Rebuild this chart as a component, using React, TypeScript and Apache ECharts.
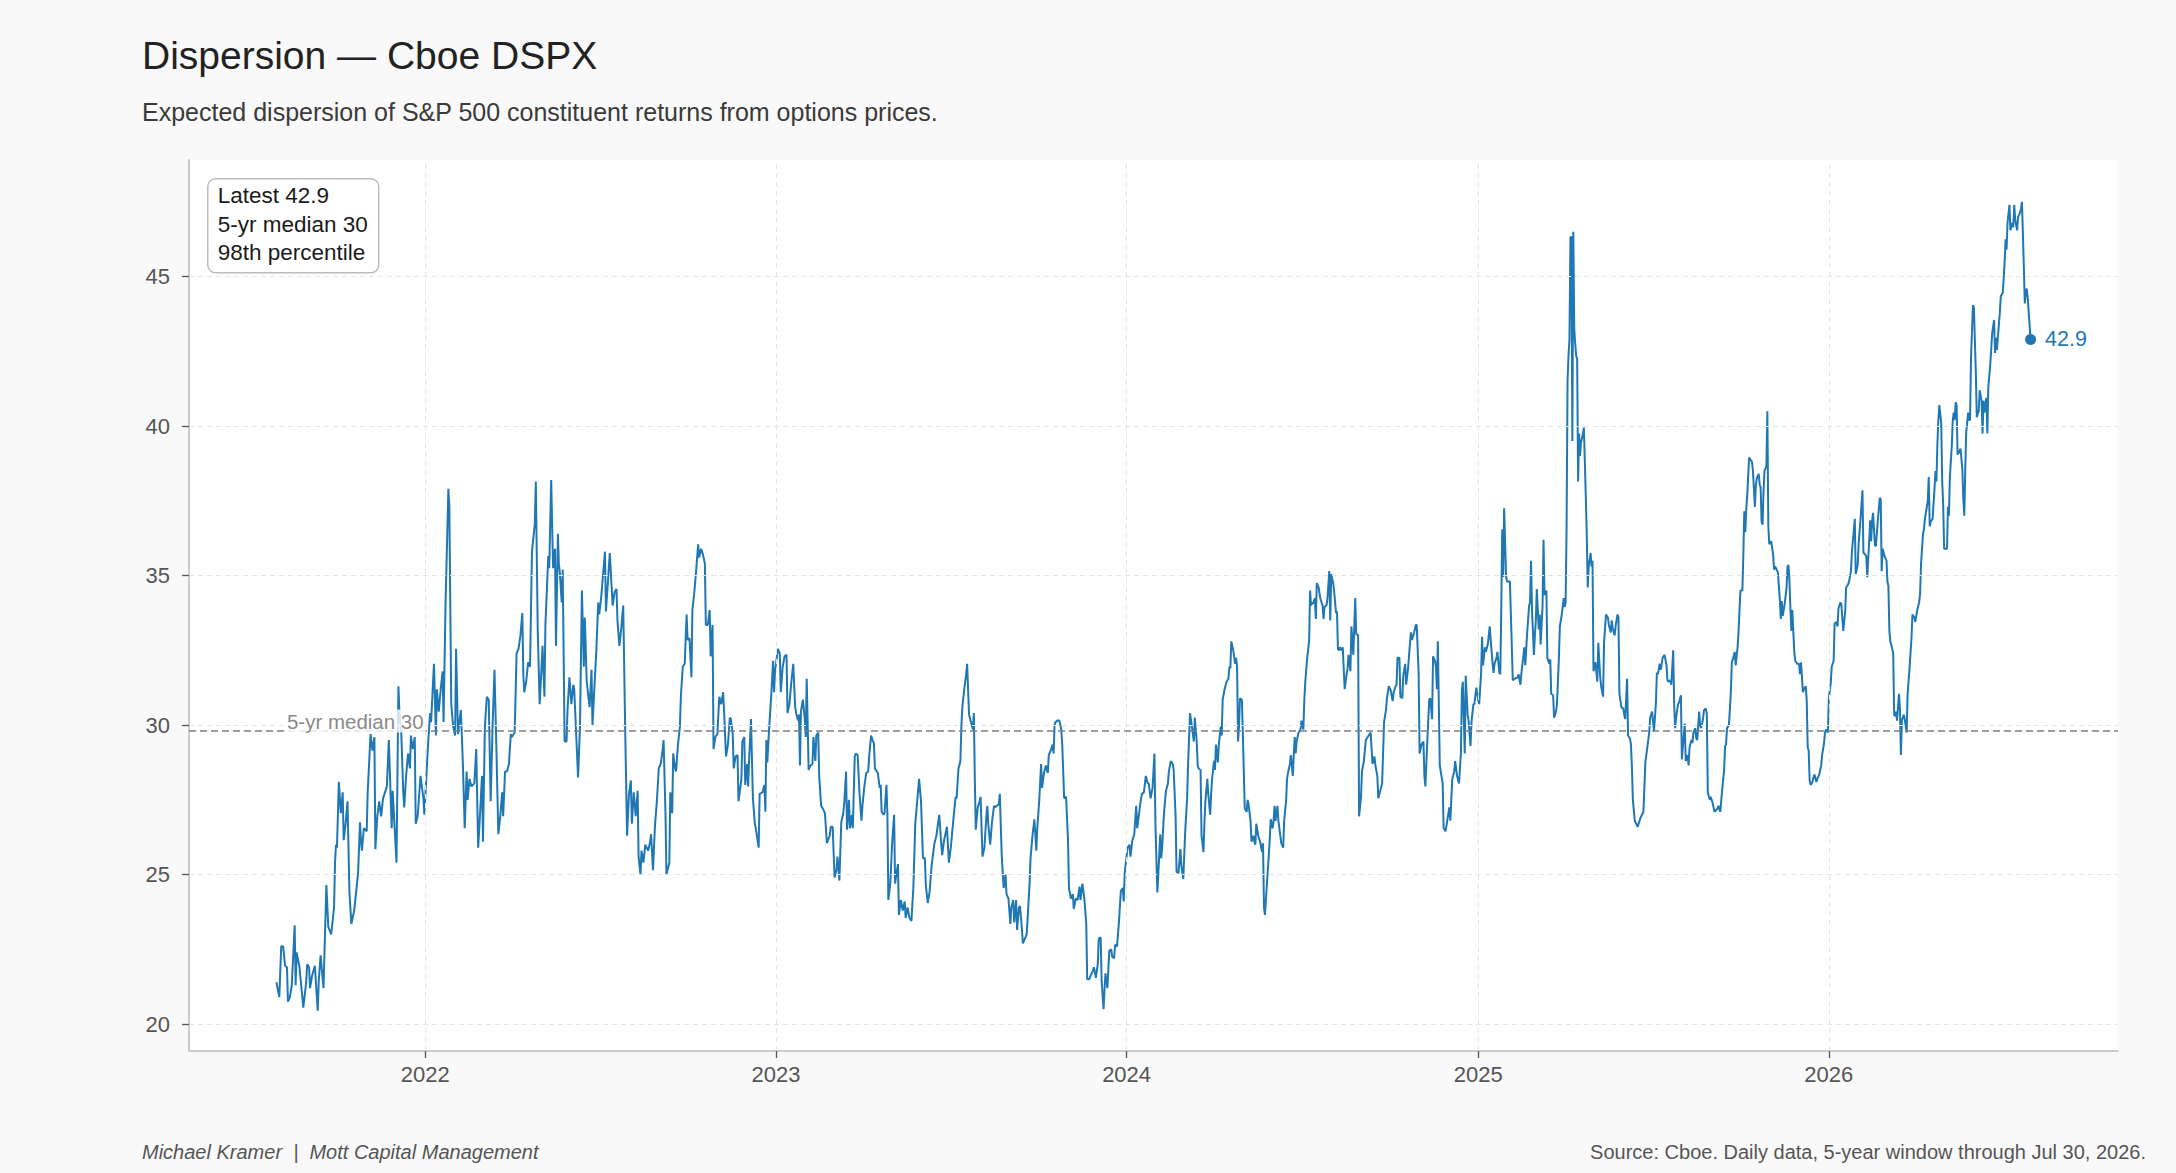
import React, { useEffect, useRef } from "react";
import * as echarts from "echarts";

// ---- data: [calendar-day offset from 2021-07-30, DSPX value] ----
const START_UTC = Date.UTC(2021, 6, 30);
const DAY_MS = 86400000;

// Jul 2021 - Jun 2022
const seg1: [number, number][] = [
  [0,21.4],[3,20.9],[5,22.6],[7,22.6],[9,21.95],[11,21.9],[12,20.75],[14,20.9],[16,21.3],[19,23.3],[20,21.3],[21,22.4],[24,21.9],[28,20.55],[31,21.4],[32,22.0],[34,21.9],[35,21.2],[37,21.6],[40,21.95],[43,20.45],[44,21.4],[46,22.3],[49,21.2],[52,24.65],[54,23.25],[57,23.0],[60,23.9],[61,25.4],[62,26.0],[63,25.9],[65,28.1],[67,27.05],[69,27.75],[70,26.15],[72,26.7],[74,27.45],[76,24.4],[78,23.35],[81,23.8],[85,25.05],[87,26.75],[88,26.15],[89,25.8],[91,26.55],[94,26.45],[95,27.75],[98,29.7],[100,29.15],[102,29.6],[103,25.85],[105,26.95],[107,27.45],[109,26.95],[111,27.55],[115,27.95],[117,29.5],[120,26.55],[121,27.8],[125,25.4],[127,31.3],[128,30.45],[130,29.7],[132,27.8],[133,27.25],[135,28.3],[137,29.05],[139,28.55],[140,29.65],[142,29.2],[144,29.6],[145,26.7],[147,26.95],[150,28.3],[153,27.55],[154,27.0],[158,29.45],[160,30.4],[161,30.1],[164,32.05],[166,29.65],[167,31.2],[169,30.45],[171,31.2],[173,31.8],[174,30.1],[176,34.0],[179,37.9],[180,37.3],[182,30.7],[184,29.95],[186,29.65],[187,32.55],[189,29.7],[192,30.5],[194,28.8],[196,26.55],[198,28.45],[199,27.5],[201,28.2],[203,27.95],[206,28.05],[208,29.2],[210,25.9],[212,27.05],[214,28.3],[215,26.1],[217,29.95],[219,30.95],[221,30.85],[223,27.45],[225,29.95],[227,31.85],[229,29.2],[231,26.35],[233,26.95],[235,27.75],[236,26.95],[238,28.45],[240,28.45],[242,28.7],[244,29.7],[245,29.6],[248,29.75],[250,32.4],[252,32.55],[254,33.0],[256,33.75],[257,31.7],[258,31.1],[260,31.45],[262,32.1],[264,31.95],[266,35.8],[269,36.75],[270,38.15],[272,33.25],[274,30.7],[276,31.95],[277,32.65],[279,30.95],[280,33.35],[283,35.65],[284,35.25],[286,38.2],[288,35.25],[290,35.9],[291,32.65],[293,36.4],[294,35.4],[295,35.1],[297,34.1],[298,35.2],[300,29.45],[302,29.45],[303,30.5],[305,31.6],[307,30.7],[309,31.35],[310,31.2]
];

// Jun 2022 - Apr 2023
const seg2: [number, number][] = [
  [314,28.25],[316,29.95],[318,34.5],[320,31.95],[321,33.6],[323,31.45],[326,30.6],[328,31.85],[329,30.0],[333,32.5],[335,34.1],[336,33.7],[338,34.25],[342,35.8],[343,33.8],[345,34.75],[347,35.75],[350,34.0],[352,34.45],[354,34.55],[355,33.5],[357,32.65],[359,33.25],[361,34.0],[363,29.95],[365,26.3],[367,27.7],[369,28.15],[370,26.7],[372,27.75],[374,26.95],[376,27.8],[377,25.6],[379,25.0],[380,25.8],[382,25.4],[384,26.0],[387,25.8],[389,26.1],[390,26.35],[392,25.15],[394,26.6],[396,27.45],[398,28.55],[400,28.7],[402,29.15],[403,29.5],[405,27.05],[406,25.0],[409,25.4],[410,27.75],[412,27.05],[413,29.05],[415,28.55],[416,28.45],[418,29.35],[420,29.95],[421,30.95],[423,31.95],[425,32.05],[427,33.7],[428,32.85],[430,32.9],[432,31.6],[433,33.85],[435,34.45],[437,35.2],[439,36.05],[440,35.6],[442,35.9],[444,35.7],[446,35.4],[447,33.35],[449,33.35],[451,33.85],[452,32.3],[454,33.35],[455,29.2],[457,29.6],[459,29.7],[461,30.95],[463,30.7],[465,31.1],[466,30.45],[468,28.95],[470,29.35],[472,30.25],[473,30.2],[475,29.7],[476,28.55],[478,28.95],[480,29.0],[481,27.45],[484,28.2],[485,29.45],[487,29.6],[488,28.0],[490,28.7],[491,27.95],[492,28.8],[494,30.2],[496,27.55],[498,26.7],[499,26.55],[502,25.9],[503,27.7],[506,27.75],[508,28.0],[509,27.1],[510,29.5],[511,28.75],[513,29.95],[515,30.95],[517,32.15],[518,31.1],[519,31.8],[522,32.55],[524,32.4],[525,31.1],[527,31.95],[529,32.3],[531,32.35],[532,30.4],[534,30.7],[536,31.45],[538,32.05],[540,30.6],[541,30.4],[543,30.15],[544,30.35],[545,28.65],[546,30.45],[548,30.85],[550,30.2],[551,29.6],[552,31.55],[554,28.5],[556,28.65],[558,28.7],[559,29.6],[561,28.8],[562,29.65],[564,29.75],[565,28.3],[567,27.3],[569,27.2],[571,27.05],[572,26.55],[573,26.05],[576,26.3],[577,26.6],[579,26.6],[581,24.9],[583,25.15],[584,25.6],[585,25.25],[586,24.8],[588,26.75],[590,27.05],[591,27.35],[593,28.45],[594,26.5],[596,27.5],[597,26.55],[599,27.0],[600,26.55],[602,28.95],[603,29.05],[605,29.0],[607,27.7],[609,26.8],[610,27.3],[612,27.95],[614,28.4],[616,28.45],[617,28.95],[619,29.65],[621,29.45],[622,29.4]
];

// Apr 2023 - Feb 2024
const seg3: [number, number][] = [
  [623,28.55],[626,28.4],[628,27.9],[629,28.0],[630,27.1],[632,27.0],[633,27.05],[635,28.0],[636,27.0],[637,24.15],[639,24.7],[641,26.1],[643,27.0],[644,24.7],[646,25.15],[647,25.35],[648,23.65],[650,24.15],[652,23.8],[654,24.1],[655,23.55],[657,23.9],[659,23.55],[661,23.45],[663,24.55],[665,26.7],[667,27.45],[669,28.2],[671,27.45],[673,25.55],[675,25.55],[676,24.65],[678,24.05],[680,24.45],[682,25.3],[683,25.55],[685,26.05],[687,26.3],[688,26.55],[690,27.0],[692,26.05],[693,25.65],[695,26.15],[697,26.45],[698,26.6],[700,25.4],[702,25.9],[705,26.95],[707,27.6],[708,27.55],[710,28.55],[712,28.8],[713,29.95],[714,30.6],[716,31.2],[718,31.7],[719,32.05],[721,30.35],[723,30.1],[725,29.85],[726,30.4],[727,28.2],[728,26.5],[730,27.25],[732,27.45],[733,27.6],[735,25.6],[737,25.9],[739,26.95],[740,27.3],[741,26.7],[743,26.0],[745,26.8],[747,27.3],[748,27.25],[750,27.3],[752,27.35],[753,27.7],[755,25.65],[757,24.55],[758,24.8],[759,25.0],[760,24.35],[762,24.2],[764,23.35],[765,23.9],[767,24.15],[768,23.4],[770,24.15],[771,23.15],[773,23.9],[774,23.95],[776,23.2],[777,22.7],[779,22.85],[781,23.0],[782,23.55],[784,24.7],[785,25.55],[787,26.3],[789,26.85],[791,25.8],[792,26.55],[794,27.45],[796,28.7],[797,27.9],[799,28.4],[801,28.65],[803,28.4],[804,29.0],[806,29.15],[808,29.35],[809,29.05],[810,30.0],[811,30.1],[813,30.15],[815,30.15],[817,29.85],[818,29.35],[820,27.55],[822,27.6],[824,26.15],[825,24.55],[827,24.2],[829,24.35],[830,23.85],[832,24.2],[834,24.15],[836,24.6],[837,24.15],[839,24.7],[841,24.2],[843,23.35],[844,21.5],[846,21.5],[848,21.65],[850,21.8],[851,21.9],[853,21.55],[855,22.0],[856,22.85],[858,22.9],[859,21.45],[861,20.5],[862,21.15],[863,21.7],[865,21.2],[867,22.45],[869,22.5],[870,22.25],[872,22.2],[873,22.65],[875,22.6],[877,23.4],[879,24.45],[881,24.55],[882,24.1],[883,25.05],[886,25.9],[888,26.0],[889,25.6],[891,26.15],[893,26.35],[895,27.3],[896,26.55],[898,27.05],[900,27.55],[901,27.7],[903,27.75],[905,28.3],[907,28.05],[908,28.05],[910,27.55],[912,27.9],[914,29.05],[915,26.7],[917,24.4],[919,25.65],[920,26.35],[921,25.55],[922,25.9],[924,27.1],[926,27.8],[928,28.05],[929,28.45],[931,28.8],[933,28.7],[934,28.5]
];

// Feb 2024 - Jan 2025
const seg4: [number, number][] = [
  [936,26.95],[937,25.1],[939,25.05],[941,25.85],[942,25.3],[944,24.85],[946,26.45],[948,27.55],[949,28.7],[951,30.4],[953,29.95],[954,29.7],[955,29.45],[956,30.25],[958,29.45],[959,28.65],[960,28.55],[962,28.5],[963,26.3],[965,25.75],[966,26.7],[967,27.45],[969,28.2],[970,27.7],[972,27.0],[973,27.7],[974,28.2],[976,28.8],[977,28.5],[978,29.35],[980,28.75],[981,29.35],[983,29.95],[984,29.65],[985,30.85],[987,31.2],[989,31.45],[991,31.55],[992,31.95],[993,31.9],[994,32.8],[996,32.5],[998,32.05],[999,32.25],[1000,31.95],[1001,29.45],[1002,29.95],[1003,30.9],[1005,30.85],[1006,29.7],[1007,28.45],[1008,27.2],[1010,27.1],[1011,27.5],[1012,27.35],[1014,26.8],[1015,26.1],[1017,26.3],[1018,26.1],[1019,26.0],[1020,26.7],[1022,26.3],[1024,26.1],[1026,25.75],[1027,26.05],[1028,23.9],[1029,23.65],[1031,24.65],[1033,25.65],[1034,26.15],[1035,26.85],[1037,26.55],[1038,26.8],[1039,27.3],[1040,26.8],[1042,27.3],[1043,26.8],[1045,26.3],[1046,26.05],[1048,25.9],[1049,26.8],[1051,27.45],[1052,28.2],[1053,28.4],[1055,28.7],[1056,29.0],[1058,28.3],[1059,29.0],[1060,29.6],[1061,29.05],[1062,29.45],[1063,29.6],[1064,29.75],[1066,29.85],[1067,30.15],[1069,29.85],[1070,30.85],[1071,31.45],[1073,32.25],[1075,32.8],[1076,34.5],[1077,34.0],[1078,34.1],[1079,34.05],[1081,34.25],[1082,33.55],[1083,34.75],[1085,34.6],[1086,34.35],[1087,34.2],[1089,34.0],[1090,33.55],[1091,33.95],[1093,34.0],[1094,34.2],[1096,35.15],[1097,33.5],[1098,35.05],[1100,34.75],[1101,34.5],[1103,33.75],[1104,33.8],[1105,32.55],[1106,32.5],[1107,32.6],[1109,32.5],[1110,32.6],[1112,31.2],[1114,31.7],[1115,31.9],[1116,32.35],[1118,31.8],[1119,33.3],[1121,32.35],[1122,33.3],[1123,34.25],[1124,33.05],[1126,33.0],[1127,26.95],[1129,27.6],[1130,28.45],[1132,28.8],[1134,29.5],[1136,29.6],[1137,29.65],[1139,29.75],[1141,28.7],[1143,28.95],[1144,28.65],[1146,28.3],[1147,27.55],[1149,27.8],[1151,28.05],[1153,30.1],[1155,30.5],[1156,30.9],[1158,31.3],[1160,31.15],[1162,30.8],[1163,31.1],[1165,31.3],[1166,31.35],[1167,32.25],[1169,32.25],[1170,30.95],[1172,30.9],[1173,31.65],[1175,32.05],[1176,31.35],[1178,31.9],[1180,32.75],[1181,33.1],[1182,32.85],[1184,33.05],[1186,33.35],[1187,33.35],[1189,31.7],[1190,29.05],[1192,29.35],[1194,29.45],[1195,28.3],[1196,27.95],[1198,29.45],[1200,30.85],[1201,30.9],[1203,30.2],[1204,32.3],[1206,32.15],[1207,31.95],[1208,31.2],[1209,32.8],[1211,28.65],[1212,28.45],[1214,28.05],[1215,26.55],[1217,26.45],[1219,26.85],[1221,27.25],[1222,26.8],[1224,28.2],[1226,28.45],[1227,28.8],[1229,28.3],[1231,28.05],[1233,29.05],[1234,31.15],[1235,31.45],[1237,29.05],[1238,31.65],[1240,30.35],[1241,30.15],[1243,29.3],[1244,30.1],[1246,30.7],[1247,30.7]
];

// Jan 2025 - Nov 2025
const seg5: [number, number][] = [
  [1249,31.25],[1251,30.85],[1252,30.7],[1254,31.7],[1255,32.95],[1256,32.0],[1258,32.6],[1259,32.45],[1261,32.7],[1263,33.3],[1264,32.85],[1266,32.05],[1267,31.75],[1268,32.05],[1270,32.25],[1271,32.45],[1273,31.75],[1274,31.7],[1275,33.85],[1276,36.55],[1277,34.95],[1278,37.25],[1280,35.0],[1281,34.8],[1284,34.8],[1286,32.6],[1287,31.5],[1289,31.55],[1292,31.6],[1293,31.7],[1295,31.35],[1296,31.75],[1298,32.3],[1299,32.6],[1300,32.0],[1302,33.1],[1304,34.0],[1305,34.1],[1306,35.5],[1307,33.85],[1309,32.35],[1310,33.0],[1311,33.5],[1312,34.55],[1314,33.2],[1315,33.7],[1316,32.7],[1318,34.0],[1319,36.2],[1320,34.35],[1322,34.5],[1323,32.25],[1325,32.05],[1326,32.2],[1327,31.05],[1329,31.0],[1330,30.25],[1332,30.45],[1333,30.7],[1335,32.25],[1336,33.3],[1338,33.7],[1340,34.25],[1341,33.95],[1342,34.1],[1343,36.6],[1344,41.5],[1345,42.35],[1346,42.9],[1347,46.3],[1348,46.35],[1349,39.5],[1350,46.5],[1351,43.25],[1352,42.75],[1353,42.35],[1354,42.25],[1355,38.15],[1356,39.75],[1357,39.0],[1358,39.45],[1360,39.75],[1361,39.95],[1363,37.65],[1364,36.4],[1365,34.6],[1366,35.3],[1368,35.75],[1369,35.3],[1370,35.5],[1371,31.8],[1373,32.1],[1375,31.45],[1376,32.75],[1378,31.6],[1379,31.3],[1381,30.95],[1382,32.75],[1384,33.7],[1386,33.6],[1387,33.35],[1389,33.1],[1390,33.5],[1391,33.25],[1393,33.0],[1394,33.3],[1396,33.7],[1397,33.6],[1398,31.05],[1400,30.6],[1402,30.55],[1403,30.35],[1404,30.2],[1406,31.55],[1407,29.65],[1409,29.55],[1410,29.35],[1411,28.6],[1412,27.5],[1414,26.8],[1417,26.6],[1420,26.9],[1423,27.1],[1425,28.75],[1427,29.25],[1429,29.75],[1430,30.25],[1432,30.45],[1434,29.8],[1436,30.75],[1437,31.75],[1438,31.7],[1440,32.05],[1441,31.85],[1443,32.25],[1445,32.35],[1447,32.0],[1448,31.5],[1449,31.45],[1451,31.5],[1452,31.35],[1454,32.5],[1455,30.7],[1456,29.9],[1457,30.25],[1459,30.7],[1460,30.75],[1462,31.0],[1463,28.85],[1464,29.25],[1466,30.05],[1467,28.8],[1469,29.0],[1470,28.65],[1471,29.25],[1473,29.5],[1474,29.4],[1475,29.75],[1477,29.9],[1478,29.55],[1479,29.5],[1481,30.45],[1482,30.0],[1483,29.9],[1485,30.2],[1486,30.5],[1488,30.55],[1489,30.35],[1490,27.75],[1492,27.5],[1493,27.6],[1495,27.4],[1497,27.1],[1500,27.2],[1501,27.3],[1503,27.1],[1505,27.85],[1507,28.5],[1508,29.3],[1509,29.35],[1510,29.9],[1512,30.0],[1514,31.1],[1515,32.1],[1517,32.3],[1518,32.45],[1519,32.0],[1521,32.6],[1522,33.1],[1523,33.85],[1524,34.5],[1526,34.5],[1527,35.7],[1528,37.15],[1529,36.45],[1530,37.2],[1531,37.65],[1533,38.95],[1534,38.9],[1536,38.8],[1537,38.5],[1539,37.3],[1540,38.0],[1541,38.25],[1543,38.4],[1544,38.05],[1545,37.95],[1546,36.8],[1547,36.7],[1548,37.8],[1549,38.5],[1551,38.65],[1552,40.5],[1553,36.65],[1554,36.05],[1556,36.15],[1558,35.7],[1559,35.2]
];

// Nov 2025 - Jul 2026
const seg6: [number, number][] = [
  [1560,35.3],[1561,35.25],[1563,35.1],[1565,34.2],[1566,33.55],[1567,34.15],[1568,33.65],[1570,34.05],[1572,34.6],[1573,35.3],[1574,35.35],[1575,34.8],[1576,33.9],[1577,33.15],[1578,33.85],[1580,32.45],[1581,32.15],[1583,32.05],[1585,32.05],[1586,31.7],[1587,32.1],[1589,31.1],[1590,31.2],[1592,31.3],[1593,30.8],[1594,29.25],[1595,29.15],[1596,28.15],[1597,28.0],[1599,28.1],[1600,28.25],[1601,28.35],[1603,28.1],[1604,28.2],[1606,28.35],[1608,28.65],[1609,29.0],[1611,29.4],[1612,29.75],[1613,29.85],[1615,29.75],[1616,30.9],[1618,31.4],[1619,31.95],[1621,32.15],[1622,33.4],[1624,33.45],[1625,33.3],[1626,33.9],[1628,34.1],[1629,34.05],[1631,33.15],[1633,33.8],[1634,34.6],[1636,34.7],[1637,34.8],[1639,35.15],[1640,35.8],[1641,36.15],[1643,36.9],[1644,35.05],[1646,35.35],[1647,36.05],[1649,36.9],[1651,37.85],[1652,35.75],[1653,35.75],[1655,35.65],[1656,34.95],[1658,36.15],[1659,36.85],[1660,36.15],[1661,36.8],[1662,37.1],[1664,36.0],[1665,36.0],[1667,36.85],[1669,37.6],[1670,37.55],[1671,35.15],[1672,35.9],[1674,35.65],[1676,35.5],[1677,34.8],[1678,34.65],[1679,33.15],[1680,32.8],[1682,32.55],[1683,32.4],[1684,30.35],[1685,30.3],[1686,30.45],[1687,30.15],[1689,31.05],[1690,30.55],[1691,29.0],[1692,30.15],[1694,30.35],[1695,30.2],[1697,29.75],[1698,31.05],[1700,31.9],[1702,32.9],[1703,33.7],[1705,33.6],[1706,33.45],[1708,33.85],[1710,34.1],[1711,34.4],[1712,35.4],[1714,36.4],[1715,36.55],[1716,36.9],[1718,37.3],[1719,37.5],[1720,38.3],[1721,36.65],[1722,36.8],[1724,36.9],[1726,37.9],[1727,38.5],[1728,38.15],[1729,39.4],[1730,40.2],[1731,40.7],[1733,40.1],[1734,38.15],[1735,37.4],[1736,35.9],[1737,35.9],[1739,35.9],[1740,37.3],[1741,37.0],[1742,38.3],[1744,39.35],[1745,40.2],[1746,40.45],[1747,40.2],[1748,40.8],[1749,40.7],[1750,39.05],[1752,39.15],[1753,39.25],[1755,38.55],[1756,37.55],[1757,37.0],[1758,38.55],[1759,39.8],[1761,40.45],[1762,40.2],[1763,40.2],[1764,42.3],[1766,44.05],[1767,43.95],[1769,41.8],[1770,40.3],[1772,40.5],[1773,41.2],[1775,40.85],[1776,39.75],[1777,40.85],[1778,40.45],[1780,40.95],[1781,39.75],[1782,41.3],[1784,42.05],[1785,42.55],[1786,43.1],[1788,43.55],[1789,42.45],[1790,42.95],[1791,42.55],[1792,43.0],[1794,43.8],[1795,44.35],[1797,44.45],[1798,44.95],[1799,45.5],[1800,46.25],[1801,45.9],[1802,46.8],[1804,47.4],[1805,46.55],[1807,46.8],[1808,46.65],[1809,47.4],[1810,46.9],[1812,46.55],[1813,47.0],[1814,47.05],[1816,47.25],[1817,47.5],[1818,46.45],[1819,45.3],[1820,44.1],[1821,44.45],[1822,44.6],[1823,44.3],[1826,42.9]
];

const yearTicks = [2022, 2023, 2024, 2025, 2026];
const yTicks = [20, 25, 30, 35, 40, 45];
const medianValue = 29.8;
const medianLabel = "5-yr median 30";
const statLines = ["Latest 42.9", "5-yr median 30", "98th percentile"];
const titleText = "Dispersion \u2014 Cboe DSPX";
const subtitleText = "Expected dispersion of S&P 500 constituent returns from options prices.";
const footerLeft = "Michael Kramer\u00a0 |\u00a0 Mott Capital Management";
const footerRight = "Source: Cboe. Daily data, 5-year window through Jul 30, 2026.";

const X_MIN = Date.UTC(2021, 3, 30);
const X_MAX = Date.UTC(2026, 9, 29);
const Y_MIN = 19.1;
const Y_MAX = 48.9;

const FONT = "'Liberation Sans', Arial, Helvetica, sans-serif";
const BLUE = "#1f77b4";

export default function App() {
  const ref = useRef<HTMLDivElement | null>(null);

  useEffect(() => {
    if (!ref.current) return;
    const chart = echarts.init(ref.current, undefined, { renderer: "svg" });

    const all = [...seg1, ...seg2, ...seg3, ...seg4, ...seg5, ...seg6];
    const lineData = all.map(([d, v]) => [START_UTC + d * DAY_MS, v]);
    const last = lineData[lineData.length - 1];
    const yearTs = yearTicks.map((y) => Date.UTC(y, 0, 1));

    const option: any = {
      animation: false,
      backgroundColor: "#f9f9f9",
      textStyle: { fontFamily: FONT },
      title: [
        {
          text: titleText,
          left: 137,
          top: 31,
          textStyle: { fontSize: 39, fontWeight: "normal", color: "#222222", fontFamily: FONT },
        },
        {
          text: subtitleText,
          left: 137,
          top: 94,
          textStyle: { fontSize: 25, fontWeight: "normal", color: "#3a3a3a", fontFamily: FONT },
        },
        {
          text: footerLeft,
          left: 137,
          top: 1137,
          textStyle: { fontSize: 20, fontWeight: "normal", fontStyle: "italic", color: "#555555", fontFamily: FONT },
        },
        {
          text: footerRight,
          right: 25,
          top: 1137,
          textStyle: { fontSize: 20, fontWeight: "normal", color: "#555555", fontFamily: FONT },
        },
      ],
      grid: {
        left: 189,
        right: 58,
        top: 160,
        bottom: 122,
        show: true,
        backgroundColor: "#ffffff",
        borderWidth: 0,
      },
      xAxis: {
        type: "value",
        min: X_MIN,
        max: X_MAX,
        axisLine: { show: true, lineStyle: { color: "#cccccc", width: 2 } },
        axisTick: { show: true, customValues: yearTs, length: 7, lineStyle: { color: "#555555", width: 1.3 } },
        axisLabel: {
          customValues: yearTs,
          formatter: (v: number) => String(new Date(v).getUTCFullYear()),
          fontSize: 22,
          color: "#555555",
          margin: 12,
          fontFamily: FONT,
        },
        splitLine: { show: false },
      },
      yAxis: {
        type: "value",
        min: Y_MIN,
        max: Y_MAX,
        axisLine: { show: true, lineStyle: { color: "#cccccc", width: 2 } },
        axisTick: { show: true, customValues: yTicks, length: 7, lineStyle: { color: "#555555", width: 1.3 } },
        axisLabel: { customValues: yTicks, fontSize: 22, color: "#555555", margin: 19, fontFamily: FONT },
        splitLine: { show: false },
      },
      series: [
        {
          type: "line",
          name: "grid",
          data: [],
          silent: true,
          z: 1,
          markLine: {
            silent: true,
            symbol: ["none", "none"],
            label: { show: false },
            lineStyle: { color: "#e4e4e4", type: [5, 4], width: 1 },
            data: [
              ...yearTs.map((t) => ({ xAxis: t })),
              ...yTicks.map((v) => ({ yAxis: v })),
            ],
          },
        },
        {
          type: "line",
          name: "DSPX",
          data: lineData,
          showSymbol: false,
          z: 3,
          lineStyle: { color: BLUE, width: 2 },
          itemStyle: { color: BLUE },
          markLine: {
            silent: true,
            symbol: ["none", "none"],
            label: { show: false },
            lineStyle: { color: "#7f7f7f", type: [7, 4], width: 1.6 },
            data: [{ yAxis: medianValue }],
          },
          markPoint: {
            silent: true,
            data: [
              {
                coord: [START_UTC, medianValue],
                symbol: "rect",
                symbolSize: 1,
                itemStyle: { color: "rgba(0,0,0,0)" },
                label: {
                  show: true,
                  position: "right",
                  distance: 8,
                  offset: [0, -10],
                  formatter: medianLabel,
                  color: "#8a8a8a",
                  fontSize: 20.5,
                  fontFamily: FONT,
                  backgroundColor: "rgba(255,255,255,0.8)",
                  padding: [1, 2],
                },
              },
              {
                coord: last,
                symbol: "circle",
                symbolSize: 11,
                itemStyle: { color: BLUE },
                label: {
                  show: true,
                  position: "right",
                  distance: 9,
                  formatter: String(last[1]),
                  color: BLUE,
                  fontSize: 21.5,
                  fontFamily: FONT,
                },
              },
            ],
          },
        },
      ],
      graphic: [
        {
          type: "group",
          left: 207,
          top: 178,
          children: [
            {
              type: "rect",
              shape: { x: 0, y: 0, width: 171, height: 94, r: 8 },
              style: { fill: "#ffffff", stroke: "#bdbdbd", lineWidth: 1.5 },
            },
            ...statLines.map((t, i) => ({
              type: "text",
              x: 10,
              y: 17 + i * 28.5,
              style: {
                text: t,
                fill: "#1a1a1a",
                font: `22.5px ${FONT}`,
                verticalAlign: "middle",
              },
            })),
          ],
        },
      ],
    };

    chart.setOption(option);
    return () => chart.dispose();
  }, []);

  return (
    <div style={{ position: "fixed", left: 0, top: 0, width: 2176, height: 1173, background: "#f9f9f9" }}>
      <div ref={ref} style={{ width: 2176, height: 1173 }} />
    </div>
  );
}
